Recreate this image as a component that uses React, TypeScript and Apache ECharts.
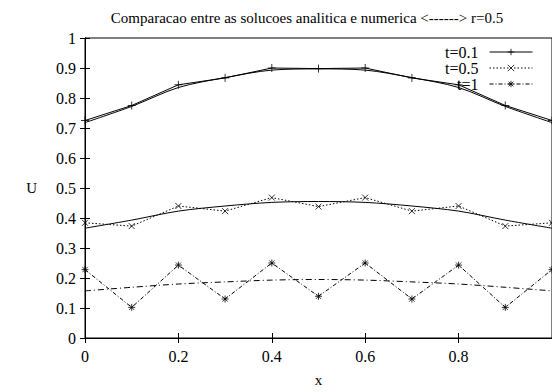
import React, { useEffect, useRef } from "react";
import * as echarts from "echarts";

const xs = [0, 0.1, 0.2, 0.3, 0.4, 0.5, 0.6, 0.7, 0.8, 0.9, 1.0];
const num01 = [0.725, 0.775, 0.844, 0.867, 0.9, 0.898, 0.9, 0.867, 0.844, 0.775, 0.725];
const ana01 = [0.718, 0.772, 0.835, 0.868, 0.893, 0.897, 0.893, 0.868, 0.835, 0.772, 0.718];
const num05 = [0.384, 0.373, 0.44, 0.423, 0.468, 0.438, 0.468, 0.423, 0.44, 0.373, 0.384];
const ana05 = [0.366, 0.393, 0.423, 0.44, 0.452, 0.455, 0.452, 0.44, 0.423, 0.393, 0.366];
const num1 = [0.228, 0.102, 0.243, 0.13, 0.25, 0.139, 0.25, 0.13, 0.243, 0.102, 0.228];
const ana1 = [0.157, 0.169, 0.18, 0.187, 0.193, 0.195, 0.193, 0.187, 0.18, 0.169, 0.157];
const legendNames = ["t=0.1", "t=0.5", "t=1"];

const pair = (ys: number[]) => xs.map((x, i) => [x, ys[i]]);

const PLUS = "path://M0,4H8M4,0V8";
const CROSS = "path://M0,0L8,8M8,0L0,8";
const STAR = "path://M0,4H8M4,0V8M1,1L7,7M7,1L1,7";

const FONT = "'Liberation Serif', 'Times New Roman', serif";

export default function App() {
  const ref = useRef<HTMLDivElement>(null);
  useEffect(() => {
    const chart = echarts.init(ref.current!, null, { renderer: "svg" });
    const markStyle = { color: "#000", borderColor: "#000", borderWidth: 0.8 };
    const axisCommon = {
      axisLine: { show: true, lineStyle: { color: "#000", width: 1 } },
      axisTick: { show: true, inside: true, length: 5, lineStyle: { color: "#000" } },
      splitLine: { show: false },
    };
    chart.setOption({
      animation: false,
      backgroundColor: "#fff",
      textStyle: { fontFamily: FONT, color: "#000" },
      title: {
        text: "Comparacao entre as solucoes analitica e numerica <------> r=0.5",
        left: 302,
        textAlign: "center",
        top: 5,
        textStyle: { fontFamily: FONT, fontSize: 15, fontWeight: "normal", color: "#000" },
      },
      legend: {
        data: legendNames,
        right: 19,
        top: 44,
        orient: "vertical",
        align: "right",
        itemWidth: 43,
        itemHeight: 8,
        itemGap: 0,
        lineStyle: { width: 1 },
        itemStyle: { borderWidth: 0.8 },
        textStyle: { fontFamily: FONT, fontSize: 16, color: "#000", padding: [0, 6, 0, 0] },
        padding: 0,
      },
      grid: { left: 85, right: 0, top: 38, bottom: 46, show: true, borderColor: "#000", borderWidth: 1 },
      xAxis: [
        {
          type: "value",
          min: 0,
          max: 1,
          interval: 0.2,
          name: "x",
          nameLocation: "middle",
          nameGap: 34,
          nameTextStyle: { fontFamily: FONT, fontSize: 15, color: "#000" },
          ...axisCommon,
          axisLabel: {
            fontFamily: FONT,
            fontSize: 16,
            color: "#000",
            margin: 10,
            showMaxLabel: false,
            formatter: (v: number) => String(Math.round(v * 10) / 10),
          },
        },
        {
          type: "value",
          min: 0,
          max: 1,
          interval: 0.2,
          position: "top",
          ...axisCommon,
          axisLabel: { show: false },
        },
      ],
      yAxis: [
        {
          type: "value",
          min: 0,
          max: 1,
          interval: 0.1,
          name: "U",
          nameLocation: "middle",
          nameRotate: 0,
          nameGap: 48,
          nameTextStyle: { fontFamily: FONT, fontSize: 15, color: "#000" },
          ...axisCommon,
          axisLabel: {
            fontFamily: FONT,
            fontSize: 16,
            color: "#000",
            margin: 9,
            formatter: (v: number) => String(Math.round(v * 10) / 10),
          },
        },
        {
          type: "value",
          min: 0,
          max: 1,
          interval: 0.1,
          position: "right",
          ...axisCommon,
          axisLabel: { show: false },
        },
      ],
      series: [
        {
          name: "t=0.1",
          type: "line",
          data: pair(num01),
          symbol: PLUS,
          symbolSize: 8,
          lineStyle: { color: "#000", width: 1, type: "solid" },
          itemStyle: markStyle,
          z: 3,
        },
        {
          name: "t=0.5",
          type: "line",
          data: pair(num05),
          symbol: CROSS,
          symbolSize: 6,
          lineStyle: { color: "#000", width: 1, type: [1.5, 2] },
          itemStyle: markStyle,
          z: 3,
        },
        {
          name: "t=1",
          type: "line",
          data: pair(num1),
          symbol: STAR,
          symbolSize: 7,
          lineStyle: { color: "#000", width: 1, type: [4, 2, 1, 2] },
          itemStyle: markStyle,
          z: 3,
        },
        {
          name: "a01",
          type: "line",
          data: pair(ana01),
          symbol: "none",
          smooth: 0.3,
          lineStyle: { color: "#000", width: 1, type: "solid" },
        },
        {
          name: "a05",
          type: "line",
          data: pair(ana05),
          symbol: "none",
          smooth: 0.3,
          lineStyle: { color: "#000", width: 1, type: "solid" },
        },
        {
          name: "a1",
          type: "line",
          data: pair(ana1),
          symbol: "none",
          smooth: 0.3,
          lineStyle: { color: "#000", width: 1, type: [6, 3, 1, 3] },
        },
      ],
    });
    return () => chart.dispose();
  }, []);
  return <div ref={ref} style={{ width: 552, height: 392, position: "fixed", left: 0, top: 0 }} />;
}
